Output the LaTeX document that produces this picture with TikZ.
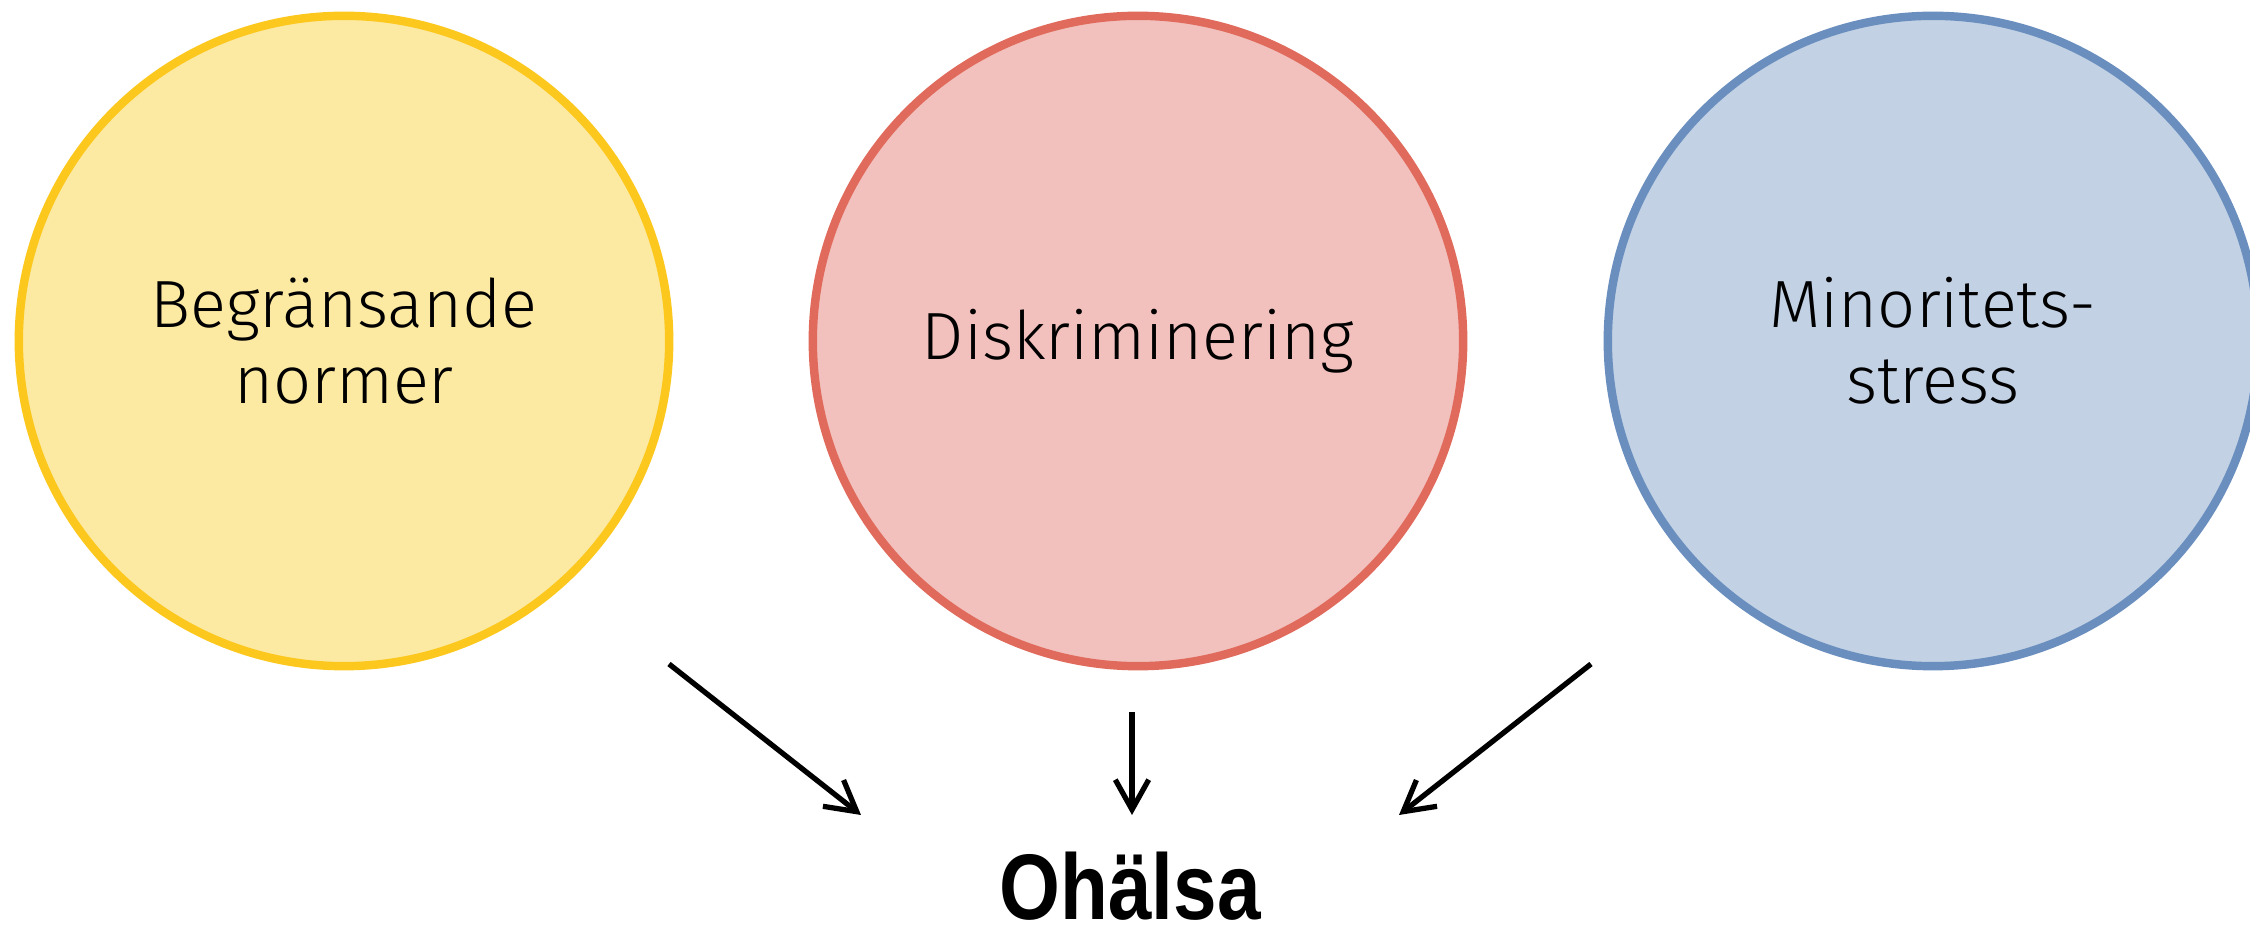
\documentclass[tikz,border=0pt]{standalone}
\usepackage{fontspec}
\setmainfont{Fira Sans Light}
\newfontfamily\headfont[FakeStretch=0.84]{Liberation Sans}
\usetikzlibrary{arrows.meta}

\definecolor{gulFill}{RGB}{252,233,162}
\definecolor{gulDraw}{RGB}{252,200,30}
\definecolor{rodFill}{RGB}{242,193,189}
\definecolor{rodDraw}{RGB}{224,106,91}
\definecolor{blaFill}{RGB}{194,209,228}
\definecolor{blaDraw}{RGB}{106,143,191}

\begin{document}
\begin{tikzpicture}[x=0.01cm,y=0.01cm,yscale=-1,
	factor/.style={circle, line width=2.4pt, minimum size=6.5cm, inner sep=0pt, align=center,
		font=\fontsize{19}{21.5}\selectfont},
	arr/.style={line width=1.5pt, -{Straight Barb[length=8.5pt,width=9.5pt,line width=1.5pt]}}]
	%set diagram frame: 2250 x 928
	\fill[white] (0,0) rectangle (2250,928);
	\useasboundingbox (0,0) rectangle (2250,928);
	
	%Shape: Circle [id:begransande]
	\node[factor, draw=gulDraw, fill=gulFill] (norm) at (344,341) {Begränsande\\normer};
	%Shape: Circle [id:diskriminering]
	\node[factor, draw=rodDraw, fill=rodFill] (disk) at (1138,341) {Diskriminering};
	%Shape: Circle [id:minoritetsstress]
	\node[factor, draw=blaDraw, fill=blaFill] (stress) at (1933,341) {Minoritets-\\stress};
	
	% Text Node
	\node[anchor=base, inner sep=0.75pt, font=\headfont\bfseries\fontsize{26.5}{29}\selectfont] (ohalsa) at (1130,920) {Ohälsa};
	
	%Straight Lines
	\coordinate (n1) at (669,664);  \coordinate (o1) at (861,815);
	\coordinate (n2) at (1132,712); \coordinate (o2) at (1132,815);
	\coordinate (n3) at (1591,664); \coordinate (o3) at (1399,815);
	\draw[arr] (n1) -- (o1);
	\draw[arr] (n2) -- (o2);
	\draw[arr] (n3) -- (o3);
	
\end{tikzpicture}
\end{document}
